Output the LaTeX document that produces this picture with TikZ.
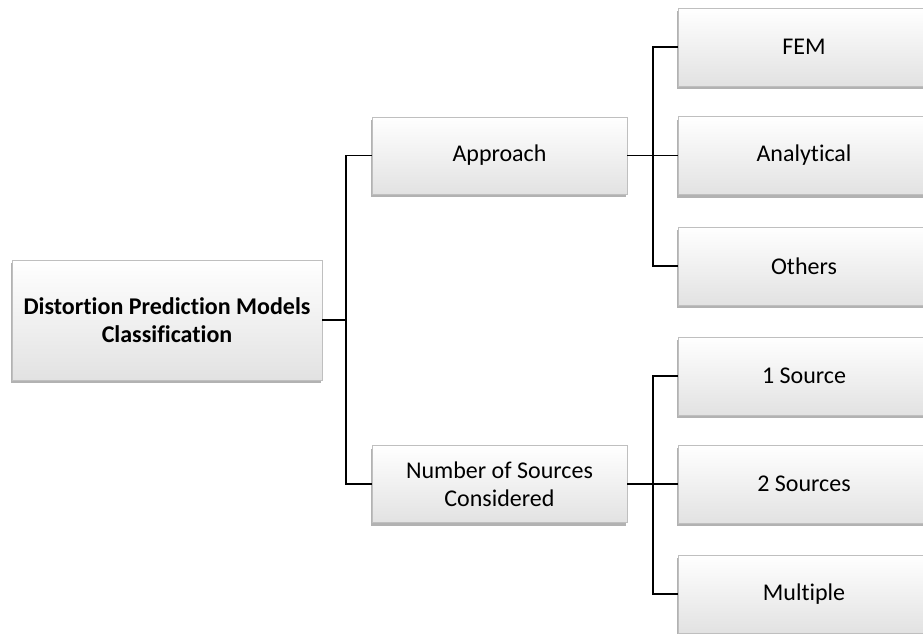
\documentclass[tikz,border=0pt]{standalone}
\usepackage{fontspec}
\setmainfont{Carlito}[RawFeature=-liga]
\usetikzlibrary{shadows,positioning}
\definecolor{boxedge}{HTML}{BFBFBF}
\definecolor{boxlow}{HTML}{E2E2E2}
\begin{document}
\begin{tikzpicture}[x=1pt,y=-1pt,
  boxbase/.style={draw=boxedge, line width=0.6pt, top color=white, bottom color=boxlow,
    align=center, inner sep=2pt, font=\fontsize{24}{27.5}\selectfont,
    drop shadow={shadow xshift=-1.5pt, shadow yshift=-3pt, opacity=0.5, fill=black!60}},
  rootbox/.style={boxbase, minimum width=310pt, minimum height=120pt, font=\fontsize{24}{28}\selectfont\bfseries},
  midbox/.style={boxbase, minimum width=255pt, minimum height=77pt},
  leafbox/.style={boxbase, minimum width=252pt, minimum height=78pt},
  link/.style={draw=black, line width=1.3pt}]
\useasboundingbox (0,0) rectangle (923,633);
\begin{scope}
\clip (0,0) rectangle (923,633);
% root
\node[rootbox] (root) at (167,320) {Distortion Prediction Models\\Classification};
% second level
\node[midbox] (appr) at (499.5,155.5) {Approach};
\node[midbox] (nsrc) at (499.5,484) {Number of Sources\\Considered};
% leaves
\node[leafbox] (fem)   at (804,47)    {FEM};
\node[leafbox] (anal)  at (804,155.5) {Analytical};
\node[leafbox] (oth)   at (804,266)   {Others};
\node[leafbox] (one)   at (804,376)   {1 Source};
\node[leafbox] (two)   at (804,484)   {2 Sources};
\node[leafbox] (multi) at (804,594)   {Multiple};
% connectors
\coordinate (j0) at (346,320);
\coordinate (j1) at (653,155.5);
\coordinate (j2) at (653,484);
\draw[link] (root.east) -- (j0);
\draw[link] (appr.west) -| (j0) |- (nsrc.west);
\draw[link] (appr.east) -- (j1);
\draw[link] (fem.west) -| (j1) |- (oth.west);
\draw[link] (j1) -- (anal.west);
\draw[link] (nsrc.east) -- (j2);
\draw[link] (one.west) -| (j2) |- (multi.west);
\draw[link] (j2) -- (two.west);
\end{scope}
\end{tikzpicture}
\end{document}
